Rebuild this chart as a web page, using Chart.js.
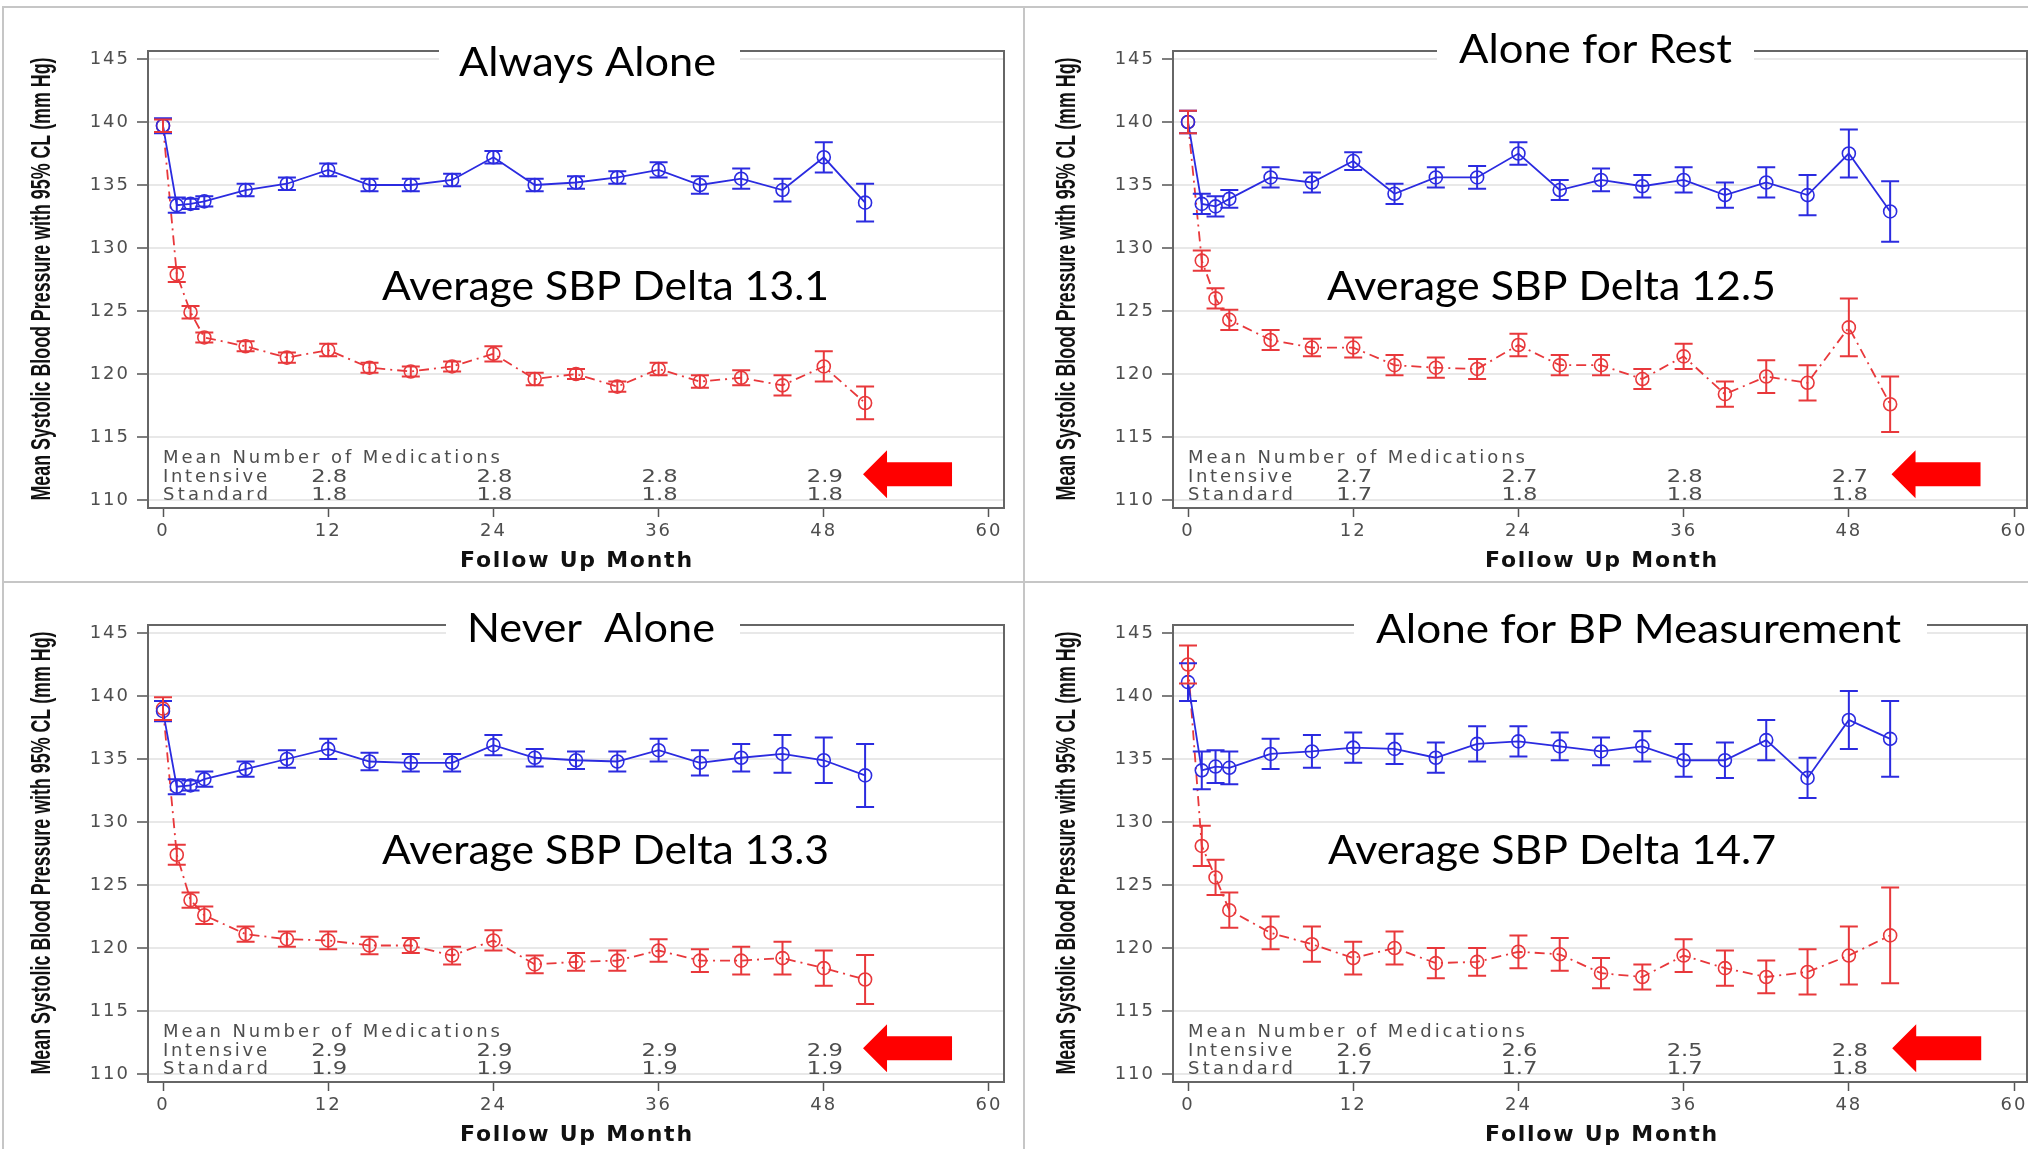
<!DOCTYPE html>
<html>
<head>
<meta charset="utf-8">
<script src="https://cdn.jsdelivr.net/npm/chart.js@4.4.1/dist/chart.umd.min.js"></script>
<style>
  html, body { margin: 0; padding: 0; background: #fff; width: 2028px; height: 1149px; overflow: hidden; }
  .rule { position: absolute; background: #c6c6c6; }
  .panel { position: absolute; overflow: hidden; }
</style>
</head>
<body>
<div class="rule" style="left:2px;top:6px;width:2026px;height:2px"></div>
<div class="rule" style="left:2px;top:6px;width:2px;height:1143px"></div>
<div class="rule" style="left:1023px;top:6px;width:2px;height:1143px"></div>
<div class="rule" style="left:2px;top:581px;width:2026px;height:2px"></div>

<div class="panel" style="left:0;top:0;width:1024px;height:575px"><canvas id="tl" width="1024" height="575"></canvas></div>
<div class="panel" style="left:1025px;top:0;width:1003px;height:575px"><canvas id="tr" width="1024" height="575"></canvas></div>
<div class="panel" style="left:0;top:574px;width:1024px;height:575px"><canvas id="bl" width="1024" height="575"></canvas></div>
<div class="panel" style="left:1025px;top:574px;width:1003px;height:575px"><canvas id="br" width="1024" height="575"></canvas></div>

<script>
// follow-up visits (months)
const MONTHS = [0, 1, 2, 3, 6, 9, 12, 15, 18, 21, 24, 27, 30, 33, 36, 39, 42, 45, 48, 51];
const X_TICKS = [0, 12, 24, 36, 48, 60];
const Y_TICKS = [110, 115, 120, 125, 130, 135, 140, 145];
const MED_MONTHS = [12, 24, 36, 48];

const Y_TITLE = 'Mean Systolic Blood Pressure with 95% CL (mm Hg)';
const X_TITLE = 'Follow Up Month';

// Always Alone
const ALWAYS_STD    = [139.7, 133.4, 133.5, 133.7, 134.6, 135.1, 136.2, 135.0, 135.0, 135.4, 137.2, 135.0, 135.2, 135.6, 136.2, 135.0, 135.5, 134.6, 137.2, 133.6];
const ALWAYS_STD_CI = [0.6, 0.6, 0.4, 0.4, 0.5, 0.5, 0.5, 0.5, 0.5, 0.5, 0.5, 0.5, 0.5, 0.5, 0.6, 0.7, 0.8, 0.9, 1.2, 1.5];
const ALWAYS_INT    = [139.7, 127.9, 124.9, 122.9, 122.2, 121.3, 121.9, 120.5, 120.2, 120.6, 121.6, 119.6, 120.0, 119.0, 120.4, 119.4, 119.7, 119.1, 120.6, 117.7];
const ALWAYS_INT_CI = [0.5, 0.6, 0.5, 0.4, 0.4, 0.4, 0.5, 0.4, 0.4, 0.4, 0.6, 0.5, 0.4, 0.4, 0.5, 0.5, 0.6, 0.8, 1.2, 1.3];
const ALWAYS_MED_INT = ['2.8', '2.8', '2.8', '2.9'];
const ALWAYS_MED_STD = ['1.8', '1.8', '1.8', '1.8'];

// Alone for Rest
const REST_STD    = [140.0, 133.5, 133.3, 133.9, 135.6, 135.2, 136.9, 134.3, 135.6, 135.6, 137.5, 134.6, 135.4, 134.9, 135.4, 134.2, 135.2, 134.2, 137.5, 132.9];
const REST_STD_CI = [0.9, 0.8, 0.8, 0.7, 0.8, 0.8, 0.7, 0.8, 0.8, 0.9, 0.9, 0.8, 0.9, 0.9, 1.0, 1.0, 1.2, 1.6, 1.9, 2.4];
const REST_INT    = [140.0, 129.0, 126.0, 124.3, 122.7, 122.1, 122.1, 120.7, 120.5, 120.4, 122.3, 120.7, 120.7, 119.6, 121.4, 118.4, 119.8, 119.3, 123.7, 117.6];
const REST_INT_CI = [0.9, 0.8, 0.8, 0.8, 0.8, 0.7, 0.8, 0.8, 0.8, 0.8, 0.9, 0.8, 0.8, 0.8, 1.0, 1.0, 1.3, 1.4, 2.3, 2.2];
const REST_MED_INT = ['2.7', '2.7', '2.8', '2.7'];
const REST_MED_STD = ['1.7', '1.8', '1.8', '1.8'];

// Never Alone
const NEVER_STD    = [138.8, 132.8, 132.9, 133.4, 134.2, 135.0, 135.8, 134.8, 134.7, 134.7, 136.1, 135.1, 134.9, 134.8, 135.7, 134.7, 135.1, 135.4, 134.9, 133.7];
const NEVER_STD_CI = [0.8, 0.6, 0.4, 0.6, 0.6, 0.7, 0.8, 0.7, 0.7, 0.7, 0.8, 0.7, 0.7, 0.8, 0.9, 1.0, 1.1, 1.5, 1.8, 2.5];
const NEVER_INT    = [139.0, 127.4, 123.8, 122.6, 121.1, 120.7, 120.6, 120.2, 120.2, 119.4, 120.6, 118.7, 118.9, 119.0, 119.8, 119.0, 119.0, 119.2, 118.4, 117.5];
const NEVER_INT_CI = [0.9, 0.8, 0.6, 0.7, 0.6, 0.6, 0.7, 0.7, 0.6, 0.7, 0.8, 0.7, 0.7, 0.8, 0.9, 0.9, 1.1, 1.3, 1.4, 1.95];
const NEVER_MED_INT = ['2.9', '2.9', '2.9', '2.9'];
const NEVER_MED_STD = ['1.9', '1.9', '1.9', '1.9'];

// Alone for BP Measurement
const BP_STD    = [141.1, 134.1, 134.4, 134.3, 135.4, 135.6, 135.9, 135.8, 135.1, 136.2, 136.4, 136.0, 135.6, 136.0, 134.9, 134.9, 136.5, 133.5, 138.1, 136.6];
const BP_STD_CI = [1.5, 1.5, 1.3, 1.3, 1.2, 1.3, 1.2, 1.2, 1.2, 1.4, 1.2, 1.1, 1.1, 1.2, 1.3, 1.4, 1.6, 1.6, 2.3, 3.0];
const BP_INT    = [142.5, 128.1, 125.6, 123.0, 121.2, 120.3, 119.2, 120.0, 118.8, 118.9, 119.7, 119.5, 118.0, 117.7, 119.4, 118.4, 117.7, 118.1, 119.4, 121.0];
const BP_INT_CI = [1.5, 1.6, 1.4, 1.4, 1.3, 1.4, 1.3, 1.3, 1.2, 1.1, 1.3, 1.3, 1.2, 1.0, 1.3, 1.4, 1.3, 1.8, 2.3, 3.8];
const BP_MED_INT = ['2.6', '2.6', '2.5', '2.8'];
const BP_MED_STD = ['1.7', '1.7', '1.7', '1.8'];

const BLUE = '#2b2be0';
const RED = '#e8383b';

const TITLE_FONT = '40px Lato, "Open Sans", sans-serif';
const NOTE_FONT = '18px "DejaVu Sans", sans-serif';

// text stretched with letter spacing (or squeezed) to the width seen in the picture
function fitText(ctx, text, left, baseline, width, mode) {
  ctx.save();
  ctx.letterSpacing = '0px';
  ctx.textAlign = 'left';
  ctx.textBaseline = 'alphabetic';
  const natural = ctx.measureText(text).width;
  const n = [...text].length;
  if (mode === 'space' && natural < width && n > 1) {
    ctx.letterSpacing = ((width - natural) / (n - 1)).toFixed(2) + 'px';
    ctx.fillText(text, left, baseline);
  } else {
    ctx.translate(left, baseline);
    ctx.scale(width / natural, 1);
    ctx.fillText(text, 0, 0);
  }
  ctx.restore();
}

function drawErrorBars(chart) {
  const ctx = chart.ctx;
  const ys = chart.scales.y;
  const area = chart.chartArea;
  ctx.save();
  ctx.beginPath();
  ctx.rect(area.left, area.top, area.right - area.left, area.bottom - area.top);
  ctx.clip();
  chart.data.datasets.forEach((ds, di) => {
    const meta = chart.getDatasetMeta(di);
    ctx.strokeStyle = ds.borderColor;
    ctx.lineWidth = 2;
    ctx.setLineDash([]);
    meta.data.forEach((pt, i) => {
      const v = ds.data[i].y;
      const hi = ys.getPixelForValue(v + ds.ci[i]);
      const lo = ys.getPixelForValue(v - ds.ci[i]);
      ctx.beginPath();
      ctx.moveTo(pt.x, hi); ctx.lineTo(pt.x, lo);
      ctx.moveTo(pt.x - 9, hi); ctx.lineTo(pt.x + 9, hi);
      ctx.moveTo(pt.x - 9, lo); ctx.lineTo(pt.x + 9, lo);
      ctx.stroke();
    });
  });
  ctx.restore();
}

function drawDecor(chart, p) {
  const ctx = chart.ctx;
  const area = chart.chartArea;
  const xs = chart.scales.x;
  const ys = chart.scales.y;

  // frame
  ctx.save();
  ctx.strokeStyle = '#666';
  ctx.lineWidth = 2;
  ctx.setLineDash([]);
  ctx.strokeRect(area.left, area.top, area.right - area.left, area.bottom - area.top);

  // panel title sitting in a gap of the frame
  ctx.fillStyle = '#fff';
  ctx.fillRect(p.titleGap[0], 18, p.titleGap[1] - p.titleGap[0], 70);
  ctx.fillStyle = '#000';
  ctx.font = TITLE_FONT;
  fitText(ctx, p.title, p.titlePos[0], p.titlePos[2], p.titlePos[1] - p.titlePos[0], 'scale');
  fitText(ctx, p.delta, p.deltaPos[0], p.deltaPos[2], p.deltaPos[1] - p.deltaPos[0], 'scale');

  // axis titles
  ctx.fillStyle = '#111';
  ctx.font = 'bold 28px "Liberation Sans", Arial, sans-serif';
  ctx.save();
  ctx.translate(50, (area.top + area.bottom) / 2);
  ctx.rotate(-Math.PI / 2);
  fitText(ctx, Y_TITLE, -221, 0, 443, 'scale');
  ctx.restore();
  ctx.font = 'bold 22px "DejaVu Sans", sans-serif';
  const cx = xs.getPixelForValue(30);
  fitText(ctx, X_TITLE, cx - 116, 567, 232, 'space');

  // mean number of medications table
  ctx.fillStyle = '#4e4e4e';
  ctx.font = NOTE_FONT;
  const x0 = xs.getPixelForValue(0);
  fitText(ctx, 'Mean Number of Medications', x0, area.bottom - 45, 337, 'space');
  fitText(ctx, 'Intensive', x0, area.bottom - 26, 104, 'space');
  fitText(ctx, 'Standard', x0, area.bottom - 8, 105, 'space');
  MED_MONTHS.forEach((m, i) => {
    const c = xs.getPixelForValue(m) + 1;
    fitText(ctx, p.medInt[i], c - 18, area.bottom - 26, 36, 'scale');
    fitText(ctx, p.medStd[i], c - 18, area.bottom - 8, 36, 'scale');
  });

  // red arrow pointing at the table
  const tx = xs.getPixelForValue(p.arrowAt[0]);
  const ty = ys.getPixelForValue(p.arrowAt[1]);
  ctx.fillStyle = '#ff0000';
  ctx.beginPath();
  ctx.moveTo(tx, ty);
  ctx.lineTo(tx + 24, ty - 24);
  ctx.lineTo(tx + 24, ty - 12);
  ctx.lineTo(tx + 89, ty - 12);
  ctx.lineTo(tx + 89, ty + 12);
  ctx.lineTo(tx + 24, ty + 12);
  ctx.lineTo(tx + 24, ty + 24);
  ctx.closePath();
  ctx.fill();
  ctx.restore();
}

function makeChart(id, p) {
  const pts = vals => MONTHS.map((m, i) => ({ x: m, y: vals[i] }));
  const tickFont = { family: '"DejaVu Sans", sans-serif', size: 18 };
  return new Chart(document.getElementById(id), {
    type: 'line',
    data: {
      datasets: [
        {
          label: 'Standard', data: pts(p.std), ci: p.stdCi,
          borderColor: BLUE, borderWidth: 1.8, tension: 0,
          pointRadius: 6.5, pointBorderWidth: 1.6, pointBorderColor: BLUE,
          pointBackgroundColor: 'rgba(0,0,0,0)',
        },
        {
          label: 'Intensive', data: pts(p.int), ci: p.intCi,
          borderColor: RED, borderWidth: 1.8, borderDash: [10, 5, 2, 5], tension: 0,
          pointRadius: 6.5, pointBorderWidth: 1.6, pointBorderColor: RED,
          pointBackgroundColor: 'rgba(0,0,0,0)',
        },
      ],
    },
    options: {
      responsive: false,
      animation: false,
      devicePixelRatio: 1,
      layout: { padding: { left: 0, top: 51, right: 1024 - p.right, bottom: 0 } },
      plugins: { legend: { display: false }, tooltip: { enabled: false } },
      scales: {
        x: {
          type: 'linear', min: -1.09, max: p.xMax,
          afterBuildTicks: s => { s.ticks = X_TICKS.map(v => ({ value: v })); },
          afterFit: s => { s.height = 67; },
          grid: { drawOnChartArea: false, drawTicks: true, tickLength: 9, tickColor: '#555', tickWidth: 1.5 },
          border: { display: false },
          ticks: { autoSkip: false, maxRotation: 0, font: tickFont, color: '#4e4e4e', padding: 4 },
        },
        y: {
          type: 'linear', min: 109.365, max: 145.635,
          afterBuildTicks: s => { s.ticks = Y_TICKS.map(v => ({ value: v })); },
          afterFit: s => { s.width = 148; },
          grid: { color: '#e8e8e8', lineWidth: 2, drawTicks: true, tickLength: 11, tickColor: '#555', tickWidth: 1.5 },
          border: { display: false },
          ticks: { font: tickFont, color: '#4e4e4e', padding: 7 },
        },
      },
    },
    plugins: [{
      id: 'panelExtras',
      beforeDraw: c => { c.ctx.letterSpacing = '2px'; },
      afterDatasetsDraw: c => drawErrorBars(c),
      afterDraw: c => drawDecor(c, p),
    }],
  });
}

makeChart('tl', {
  title: 'Always Alone', delta: 'Average SBP Delta 13.1',
  std: ALWAYS_STD, stdCi: ALWAYS_STD_CI, int: ALWAYS_INT, intCi: ALWAYS_INT_CI,
  medInt: ALWAYS_MED_INT, medStd: ALWAYS_MED_STD,
  right: 1004, xMax: 61.09,
  titleGap: [439, 740], titlePos: [459, 716, 76], deltaPos: [382, 829, 300], arrowAt: [50.85, 112.05],
});
makeChart('tr', {
  title: 'Alone for Rest', delta: 'Average SBP Delta 12.5',
  std: REST_STD, stdCi: REST_STD_CI, int: REST_INT, intCi: REST_INT_CI,
  medInt: REST_MED_INT, medStd: REST_MED_STD,
  right: 1002, xMax: 60.94,
  titleGap: [412, 729], titlePos: [434, 707, 63], deltaPos: [302, 751, 300], arrowAt: [51.1, 112.05],
});
makeChart('bl', {
  title: 'Never  Alone', delta: 'Average SBP Delta 13.3',
  std: NEVER_STD, stdCi: NEVER_STD_CI, int: NEVER_INT, intCi: NEVER_INT_CI,
  medInt: NEVER_MED_INT, medStd: NEVER_MED_STD,
  right: 1004, xMax: 61.09,
  titleGap: [446, 740], titlePos: [467, 715, 68], deltaPos: [382, 829, 290], arrowAt: [50.85, 112.05],
});
makeChart('br', {
  title: 'Alone for BP Measurement', delta: 'Average SBP Delta 14.7',
  std: BP_STD, stdCi: BP_STD_CI, int: BP_INT, intCi: BP_INT_CI,
  medInt: BP_MED_INT, medStd: BP_MED_STD,
  right: 1002, xMax: 60.94,
  titleGap: [329, 902], titlePos: [351, 876, 69], deltaPos: [303, 751, 290], arrowAt: [51.15, 112.05],
});
</script>
</body>
</html>
